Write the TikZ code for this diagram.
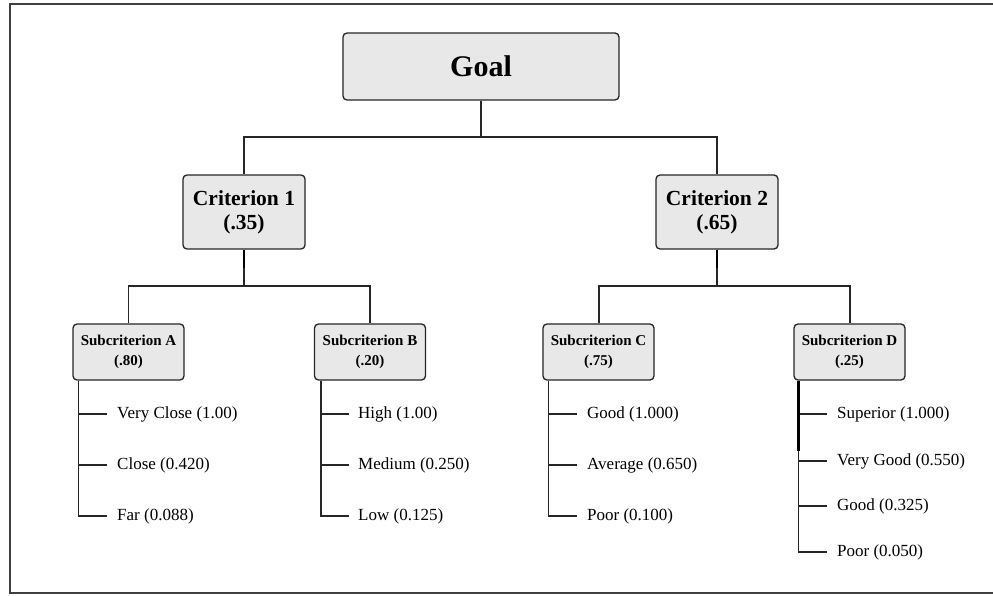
\documentclass[tikz,border=0pt]{standalone}
\usepackage{fontspec}
\setmainfont{Liberation Serif}
\usetikzlibrary{calc}
\begin{document}
\begin{tikzpicture}[x=1pt,y=-1pt,
  conn/.style={draw=black!85,line width=1.3pt},
  thickseg/.style={draw=black,line width=2.6pt},
  frame/.style={draw=black!75,line width=2pt},
  goalbox/.style={draw=black!85,line width=1.3pt,fill=black!9,rounded corners=4pt,
     minimum width=276pt,minimum height=67pt,inner sep=0pt,
     font=\fontsize{30}{34}\selectfont\bfseries},
  critbox/.style={draw=black!85,line width=1.3pt,fill=black!9,rounded corners=4pt,
     minimum width=122pt,minimum height=74pt,inner sep=0pt,align=center,
     font=\fontsize{21.5}{24}\selectfont\bfseries},
  subbox/.style={draw=black!85,line width=1.3pt,fill=black!9,rounded corners=4pt,
     minimum width=111pt,minimum height=56pt,inner sep=0pt,align=center,
     font=\fontsize{15}{20}\selectfont\bfseries},
  leaf/.style={anchor=west,inner xsep=3pt,inner ysep=1pt,
     font=\fontsize{17}{20}\selectfont}
]
\useasboundingbox (0,0) rectangle (993,596);
\draw[frame] (993,4) -- (10,4) -- (10,593) -- (993,593);

\node[goalbox] (goal) at (481,66.5) {Goal};
\node[critbox] (c1) at (244,212) {Criterion 1\\(.35)};
\node[critbox] (c2) at (717,212) {Criterion 2\\(.65)};
\node[subbox] (sa) at (128.5,352) {Subcriterion A\\(.80)};
\node[subbox] (sb) at (370,352) {Subcriterion B\\(.20)};
\node[subbox] (sc) at (598.5,352) {Subcriterion C\\(.75)};
\node[subbox] (sd) at (849.5,352) {Subcriterion D\\(.25)};

% leaves
\node[leaf] (a1) at (114,414) {Very Close (1.00)};
\node[leaf] (a2) at (114,465) {Close (0.420)};
\node[leaf] (a3) at (114,516) {Far (0.088)};
\node[leaf] (b1) at (355,414) {High (1.00)};
\node[leaf] (b2) at (355,465) {Medium (0.250)};
\node[leaf] (b3) at (355,516) {Low (0.125)};
\node[leaf] (d1c) at (584,414) {Good (1.000)};
\node[leaf] (d2c) at (584,465) {Average (0.650)};
\node[leaf] (d3c) at (584,516) {Poor (0.100)};
\node[leaf] (e1) at (834,414) {Superior (1.000)};
\node[leaf] (e2) at (834,461) {Very Good (0.550)};
\node[leaf] (e3) at (834,506) {Good (0.325)};
\node[leaf] (e4) at (834,552) {Poor (0.050)};

% junctions
\coordinate (j0) at (481,137);
\coordinate (j1) at (244,286);
\coordinate (j2) at (717,286);

\draw[conn] (goal.south) -- (j0);
\draw[conn] (j0) -| (c1.north);
\draw[conn] (j0) -| (c2.north);

\draw[conn] (c1.south) -- (j1);
\draw[conn] (j1) -| (sa.north);
\draw[conn] (j1) -| (sb.north);
\draw[conn] (c2.south) -- (j2);
\draw[conn] (j2) -| ($(sc.north)+(0.5,0)$);
\draw[conn] (j2) -| ($(sd.north)+(0.5,0)$);
\draw[thickseg] (c1.south) -- ++(0,18);
\draw[thickseg] (c2.south) -- ++(0,18);

% leaf connectors
\coordinate (sa0) at ($(sa.south west)+(6,0)$);
\coordinate (sb0) at ($(sb.south west)+(7,0)$);
\coordinate (sc0) at ($(sc.south west)+(6,0)$);
\coordinate (sd0) at ($(sd.south west)+(5,0)$);

\draw[conn] (sa0) |- ([xshift=-7pt]a3.west);
\draw[conn] (sa0 |- a1.west) -- ([xshift=-7pt]a1.west);
\draw[conn] (sa0 |- a2.west) -- ([xshift=-7pt]a2.west);

\draw[conn] (sb0) |- ([xshift=-6pt]b3.west);
\draw[conn] (sb0 |- b1.west) -- ([xshift=-6pt]b1.west);
\draw[conn] (sb0 |- b2.west) -- ([xshift=-6pt]b2.west);

\draw[conn] (sc0) |- ([xshift=-7pt]d3c.west);
\draw[conn] (sc0 |- d1c.west) -- ([xshift=-7pt]d1c.west);
\draw[conn] (sc0 |- d2c.west) -- ([xshift=-7pt]d2c.west);

\draw[conn] (sd0) |- ([xshift=-7pt]e4.west);
\draw[conn] (sd0 |- e1.west) -- ([xshift=-7pt]e1.west);
\draw[conn] (sd0 |- e2.west) -- ([xshift=-7pt]e2.west);
\draw[conn] (sd0 |- e3.west) -- ([xshift=-7pt]e3.west);
\draw[thickseg] (sd0) -- ++(0,70);
\end{tikzpicture}
\end{document}
